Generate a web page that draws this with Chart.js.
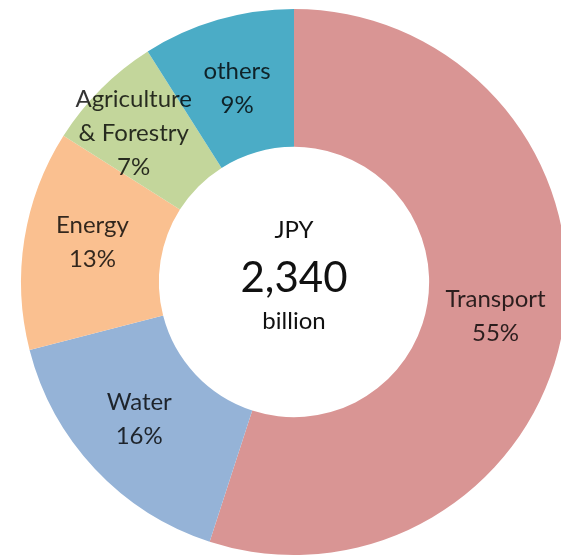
<!DOCTYPE html>
<html>
<head>
<meta charset="utf-8">
<script src="https://cdn.jsdelivr.net/npm/chart.js@4"></script>
<style>
  html, body { margin: 0; padding: 0; background: #fff; }
  #wrap { width: 561px; height: 555px; overflow: hidden; position: relative; }
  canvas { position: absolute; left: 0; top: 0; }
</style>
</head>
<body>
<div id="wrap"><canvas id="chart" width="600" height="555"></canvas></div>
<script>
// sectors, clockwise from 12 o'clock
const sectors = ['Transport', 'Water', 'Energy', 'Agriculture & Forestry', 'others'];
const labelLines = [['Transport'], ['Water'], ['Energy'], ['Agriculture', '& Forestry'], ['others']];
const shares = [55, 16, 13, 7, 9];
const colors = ['#D99594', '#95B3D7', '#FAC090', '#C3D69B', '#4BACC6'];
const centerLines = ['JPY', '2,340', 'billion'];

const FONT = 'Lato, "Open Sans", sans-serif';
// small label nudges (px) off the slice centre, like excel does
const nudgeX = [0, -6, 0, -16, 0];
const nudgeY = [2, -2, -8, -4, 2];

const sliceLabels = {
    id: 'sliceLabels',
    afterDatasetsDraw(chart) {
        const ctx = chart.ctx;
        const meta = chart.getDatasetMeta(0);
        ctx.save();
        ctx.font = '24px ' + FONT;
        ctx.fillStyle = 'rgba(0,0,0,0.8)';
        ctx.textAlign = 'center';
        ctx.textBaseline = 'middle';
        meta.data.forEach((arc, i) => {
            const p = arc.getCenterPoint();
            const lines = labelLines[i].concat([shares[i] + '%']);
            const lh = 34;
            const x = p.x + nudgeX[i];
            const y0 = p.y + nudgeY[i] - (lines.length - 1) * lh / 2;
            lines.forEach((t, j) => ctx.fillText(t, x, y0 + j * lh));
        });

        // centre text
        const a = meta.data[0];
        ctx.fillStyle = '#111';
        ctx.font = '24px ' + FONT;
        ctx.fillText(centerLines[0], a.x, a.y - 52);
        ctx.font = '42px ' + FONT;
        ctx.fillText(centerLines[1], a.x, a.y - 4);
        ctx.font = '24px ' + FONT;
        ctx.fillText(centerLines[2], a.x, a.y + 39);
        ctx.restore();
    }
};

new Chart(document.getElementById('chart'), {
    type: 'doughnut',
    data: {
        labels: sectors,
        datasets: [{
            data: shares,
            backgroundColor: colors,
            borderWidth: 0,
            hoverOffset: 0,
            offset: 0
        }]
    },
    options: {
        responsive: false,
        animation: false,
        cutout: '49.5%',
        rotation: 0,
        layout: { padding: { left: 21, top: 9, right: 33, bottom: 0 } },
        plugins: {
            legend: { display: false },
            tooltip: { enabled: false }
        }
    },
    plugins: [sliceLabels]
});
</script>
</body>
</html>
